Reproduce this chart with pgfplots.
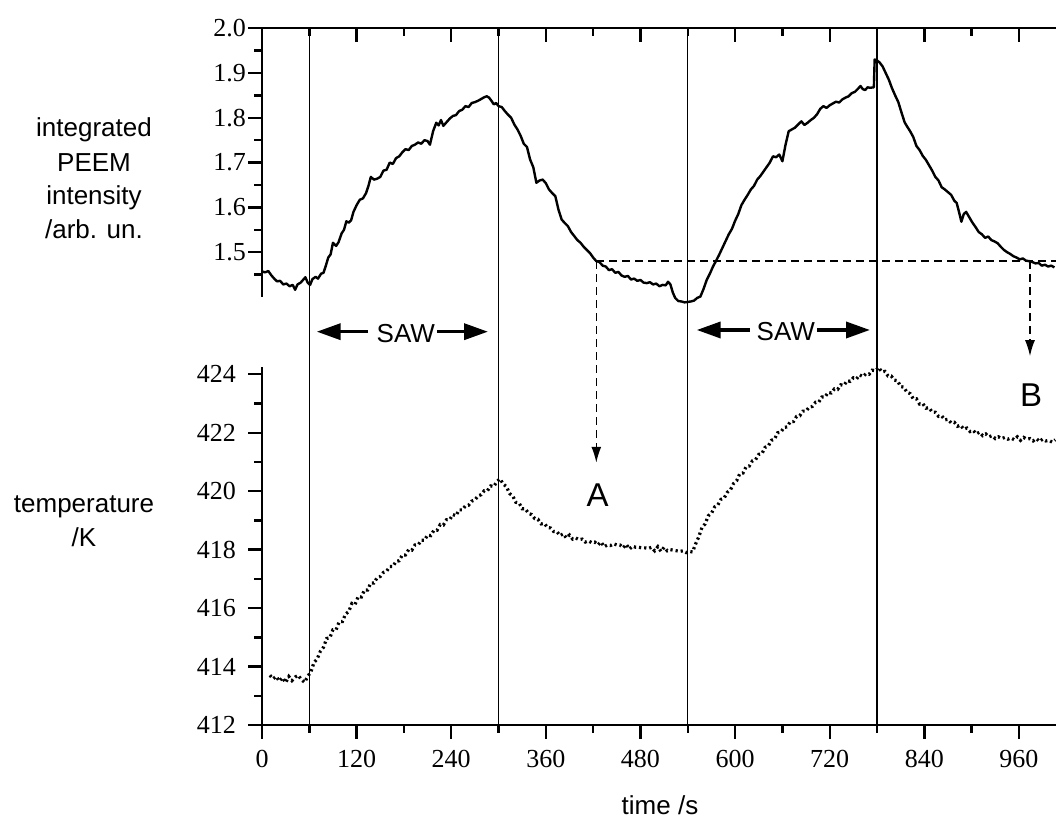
\documentclass[border=0pt]{standalone}
\usepackage{pgfplots}
\pgfplotsset{compat=1.18}
\usepackage{fontspec}
\setmainfont{Liberation Serif}
\newfontfamily\sans{Liberation Sans}
\usetikzlibrary{arrows.meta}
\pgfplotsset{
  common/.style={
    scale only axis, width=397pt, xmin=0, xmax=1007,
    axis line style={line width=1.2pt},
    every tick/.style={line width=1.2pt, black},
    major tick length=7pt, minor tick length=4pt,
    tick label style={font=\fontsize{13}{15}\selectfont},
    /pgf/number format/assume math mode=true,
    clip=false,
  },
  toppanel/.style={common, at={(131pt,260.5pt)}, anchor=south west, height=134.4pt, ymin=1.4, ymax=2.0},
}
\begin{document}
\begin{tikzpicture}
\useasboundingbox (0,0) rectangle (528pt,409pt);
% ---------- top panel: top line with inward ticks ----------
\begin{axis}[toppanel, axis x line*=top, axis y line=none, tick align=inside,
  xtick={0,120,...,960}, minor xtick={60,180,...,900}, xticklabels={}, ytick=\empty]
\end{axis}
% ---------- top panel: left axis and intensity ----------
\begin{axis}[toppanel, axis y line*=left, axis x line=none, tick align=outside,
  xtick=\empty,
  ytick={1.5,1.6,1.7,1.8,1.9,2.0}, minor ytick={1.45,1.55,1.65,1.75,1.85,1.95},
  yticklabel style={/pgf/number format/.cd, fixed, fixed zerofill, precision=1, /tikz/xshift=2.5pt}]
\addplot[black, line width=1.2pt, line join=round] coordinates {
(0,1.457)(4,1.455)(8,1.458)(12,1.448)(16,1.440)(19,1.435)(23,1.436)(27,1.428)(31,1.430)(35,1.424)(39,1.427)(42,1.416)(45,1.428)(49,1.432)(52,1.438)(55,1.444)(58,1.432)(61,1.427)(64,1.440)(68,1.445)(71,1.441)(75,1.452)(78,1.454)(81,1.470)(84,1.488)(87,1.495)(90,1.521)(94,1.514)(97,1.522)(101,1.542)(104,1.550)(107,1.569)(110,1.566)(113,1.571)(116,1.590)(120,1.605)(124,1.617)(128,1.620)(132,1.632)(135,1.648)(138,1.668)(142,1.662)(146,1.664)(150,1.668)(154,1.682)(158,1.684)(162,1.700)(166,1.697)(170,1.710)(174,1.714)(178,1.723)(182,1.730)(186,1.728)(190,1.737)(194,1.740)(198,1.745)(202,1.742)(206,1.750)(210,1.748)(213,1.740)(217,1.770)(221,1.789)(224,1.783)(227,1.795)(230,1.782)(234,1.790)(238,1.798)(242,1.804)(246,1.806)(250,1.815)(254,1.818)(258,1.826)(262,1.824)(266,1.833)(270,1.835)(274,1.838)(278,1.842)(282,1.846)(285,1.848)(288,1.845)(291,1.838)(294,1.830)(297,1.833)(300,1.826)(304,1.824)(308,1.815)(312,1.807)(316,1.800)(320,1.785)(324,1.774)(328,1.760)(332,1.742)(336,1.735)(340,1.707)(344,1.690)(348,1.655)(352,1.660)(356,1.662)(360,1.654)(364,1.640)(368,1.632)(372,1.625)(376,1.595)(380,1.573)(384,1.565)(388,1.558)(392,1.545)(396,1.536)(400,1.527)(404,1.521)(408,1.512)(412,1.505)(416,1.498)(420,1.488)(424,1.480)(428,1.478)(432,1.470)(436,1.468)(440,1.460)(444,1.462)(448,1.454)(452,1.456)(456,1.448)(460,1.445)(464,1.447)(468,1.439)(472,1.441)(476,1.436)(480,1.438)(484,1.432)(488,1.431)(492,1.433)(496,1.428)(500,1.430)(504,1.424)(508,1.427)(512,1.426)(515,1.434)(518,1.428)(521,1.410)(524,1.398)(528,1.391)(532,1.390)(536,1.388)(540,1.389)(544,1.390)(548,1.392)(552,1.398)(556,1.401)(560,1.418)(564,1.438)(568,1.452)(572,1.468)(576,1.481)(580,1.495)(584,1.510)(588,1.525)(592,1.540)(596,1.552)(600,1.570)(604,1.585)(608,1.605)(612,1.617)(616,1.628)(620,1.640)(624,1.648)(628,1.662)(632,1.670)(636,1.680)(640,1.690)(644,1.700)(648,1.714)(652,1.712)(656,1.718)(660,1.703)(664,1.740)(668,1.770)(672,1.774)(676,1.778)(680,1.785)(684,1.792)(688,1.784)(692,1.789)(696,1.795)(700,1.800)(704,1.808)(708,1.820)(712,1.826)(716,1.822)(720,1.828)(724,1.832)(728,1.836)(732,1.834)(736,1.841)(740,1.845)(744,1.848)(748,1.855)(752,1.858)(756,1.865)(759,1.871)(762,1.864)(765,1.862)(768,1.868)(771,1.867)(776,1.868)(777,1.930)(780,1.928)(783,1.924)(787,1.915)(791,1.900)(795,1.885)(799,1.866)(803,1.850)(807,1.835)(811,1.812)(815,1.790)(818,1.781)(822,1.770)(826,1.757)(830,1.737)(834,1.728)(838,1.715)(842,1.706)(846,1.694)(850,1.682)(854,1.668)(858,1.660)(862,1.645)(866,1.640)(870,1.634)(874,1.628)(878,1.615)(881,1.610)(884,1.590)(887,1.568)(890,1.585)(893,1.590)(897,1.578)(901,1.566)(905,1.556)(909,1.545)(913,1.540)(917,1.532)(921,1.535)(925,1.527)(929,1.524)(933,1.520)(937,1.512)(941,1.505)(945,1.500)(949,1.496)(953,1.491)(957,1.488)(961,1.484)(965,1.486)(969,1.481)(973,1.480)(977,1.478)(981,1.475)(985,1.476)(989,1.470)(993,1.472)(997,1.468)(1001,1.470)(1005,1.466)
};
% vertical reference lines through both panels
\foreach \t in {60,300,540,780}{
  \edef\tmp{\noexpand\draw[black, line width=0.6pt] (axis cs:\t,2.0) -- (axis cs:\t,0.4437);}\tmp
}
% dashed level line and arrows
\draw[black, line width=0.7pt, dash pattern=on 4pt off 2.5pt] (axis cs:424,1.48) -- (axis cs:1007,1.48);
\draw[black, line width=0.7pt, dash pattern=on 4pt off 2.5pt, -{Latex[length=8pt,width=5pt]}] (axis cs:424,1.48) -- (axis cs:424,1.030);
\draw[black, line width=0.7pt, dash pattern=on 4pt off 2.5pt, -{Latex[length=8pt,width=5pt]}] (axis cs:974,1.48) -- (axis cs:974,1.268);
\end{axis}
% ---------- bottom panel: temperature ----------
\begin{axis}[common, at={(131pt,46.5pt)}, anchor=south west, height=179.15pt,
  ymin=412, ymax=424.26, axis x line*=bottom, axis y line*=left, tick align=outside,
  xtick={0,120,...,960}, minor xtick={60,180,...,900},
  ytick={412,414,...,424}, minor ytick={413,415,...,423},
  yticklabel style={xshift=-2.5pt}, xticklabel style={yshift=-2pt}]
\addplot[black, line width=1.6pt, dash pattern=on 1.1pt off 1.5pt] coordinates {
(10,413.70)(14,413.58)(18,413.66)(22,413.50)(26,413.62)(30,413.45)(34,413.66)(38,413.52)(42,413.64)(46,413.70)(50,413.55)(54,413.46)(58,413.66)(62,413.82)(66,414.14)(70,414.26)(74,414.52)(78,414.66)(82,414.96)(86,414.98)(90,415.26)(94,415.26)(98,415.54)(102,415.54)(106,415.80)(110,415.88)(114,416.16)(118,416.12)(122,416.40)(126,416.38)(130,416.62)(134,416.62)(138,416.86)(142,416.86)(146,417.04)(150,417.08)(154,417.22)(158,417.26)(162,417.42)(166,417.42)(170,417.60)(174,417.62)(178,417.82)(182,417.82)(186,418.00)(190,417.98)(194,418.16)(198,418.16)(202,418.32)(206,418.32)(210,418.50)(214,418.48)(218,418.66)(222,418.66)(226,418.86)(230,418.84)(234,419.02)(238,419.02)(242,419.20)(246,419.16)(250,419.36)(254,419.36)(258,419.50)(262,419.52)(266,419.66)(270,419.70)(274,419.84)(278,419.88)(282,420.02)(286,420.02)(290,420.18)(294,420.16)(298,420.34)(302,420.42)(306,420.24)(310,420.16)(314,419.92)(318,419.84)(322,419.62)(326,419.60)(330,419.40)(334,419.40)(338,419.24)(342,419.20)(346,419.06)(350,419.04)(354,418.88)(358,418.90)(362,418.76)(366,418.74)(370,418.62)(374,418.62)(378,418.48)(382,418.54)(386,418.40)(390,418.50)(394,418.36)(398,418.40)(402,418.34)(406,418.36)(410,418.26)(414,418.30)(418,418.24)(422,418.26)(426,418.16)(430,418.26)(434,418.10)(438,418.16)(442,418.14)(446,418.20)(450,418.16)(454,418.16)(458,418.06)(462,418.18)(466,418.02)(470,418.12)(474,418.08)(478,418.08)(482,418.06)(486,418.06)(490,418.04)(494,418.08)(498,417.96)(502,418.10)(506,417.94)(510,418.08)(514,417.96)(518,418.00)(522,417.98)(526,417.96)(530,417.94)(534,417.96)(538,417.90)(542,417.94)(546,417.92)(550,418.20)(554,418.44)(558,418.76)(562,418.88)(566,419.16)(570,419.24)(574,419.46)(578,419.52)(582,419.72)(586,419.76)(590,419.96)(594,420.04)(598,420.26)(602,420.36)(606,420.60)(610,420.62)(614,420.84)(618,420.86)(622,421.04)(626,421.08)(630,421.26)(634,421.28)(638,421.50)(642,421.54)(646,421.74)(650,421.78)(654,422.00)(658,422.02)(662,422.18)(666,422.20)(670,422.38)(674,422.38)(678,422.56)(682,422.58)(686,422.74)(690,422.74)(694,422.88)(698,422.90)(702,423.04)(706,423.04)(710,423.22)(714,423.22)(718,423.38)(722,423.36)(726,423.50)(730,423.48)(734,423.64)(738,423.62)(742,423.78)(746,423.76)(750,423.88)(754,423.84)(758,423.98)(762,423.92)(766,424.02)(770,424.00)(774,424.14)(778,424.12)(782,424.24)(786,424.08)(790,424.10)(794,423.94)(798,423.94)(802,423.80)(806,423.78)(810,423.58)(814,423.56)(818,423.38)(822,423.34)(826,423.16)(830,423.16)(834,422.98)(838,423.00)(842,422.84)(846,422.86)(850,422.70)(854,422.70)(858,422.56)(862,422.58)(866,422.44)(870,422.46)(874,422.34)(878,422.36)(882,422.22)(886,422.26)(890,422.12)(894,422.16)(898,422.04)(902,422.08)(906,421.96)(910,422.02)(914,421.90)(918,421.96)(922,421.86)(926,421.90)(930,421.80)(934,421.86)(938,421.80)(942,421.84)(946,421.78)(950,421.82)(954,421.76)(958,421.86)(962,421.74)(966,421.84)(970,421.78)(974,421.80)(978,421.72)(982,421.80)(986,421.70)(990,421.78)(994,421.72)(998,421.74)(1002,421.68)(1006,421.76)
};
\end{axis}
% ---------- annotations in image pixel coordinates ----------
\begin{scope}[x=0.5pt, y=-0.5pt, shift={(0pt,409pt)}]
  \begin{scope}[font=\sans\fontsize{13}{15}\selectfont]
    \node[anchor=base, inner sep=0pt] at (94,136.7) {integrated};
    \node[anchor=base, inner sep=0pt] at (94,171.5) {PEEM};
    \node[anchor=base, inner sep=0pt] at (94,205) {intensity};
    \node[anchor=base, inner sep=0pt] at (94,239) {/arb. un.};
    \node[anchor=base, inner sep=0pt] at (84,513) {temperature};
    \node[anchor=base, inner sep=0pt] at (84,547) {/K};
    \node[anchor=base, inner sep=0pt] at (660,814.5) {time /s};
    \node[anchor=base, inner sep=0pt] at (405.8,342.7) {SAW};
    \node[anchor=base, inner sep=0pt] at (785.8,341) {SAW};
  \end{scope}
  \begin{scope}[line width=1.8pt, -{Triangle[length=12pt,width=8pt]}]
    \draw (368,331.7) -- (316.7,331.7);
    \draw (437,331.7) -- (488,331.7);
    \draw (750,330) -- (696.7,330);
    \draw (817,330) -- (870,330);
  \end{scope}
  \node[anchor=base, inner sep=0pt, font=\sans\fontsize{16.5}{19}\selectfont] at (597.5,506.7) {A};
  \node[anchor=base, inner sep=0pt, font=\sans\fontsize{16.5}{19}\selectfont] at (1031,406.7) {B};
\end{scope}
\end{tikzpicture}
\end{document}
